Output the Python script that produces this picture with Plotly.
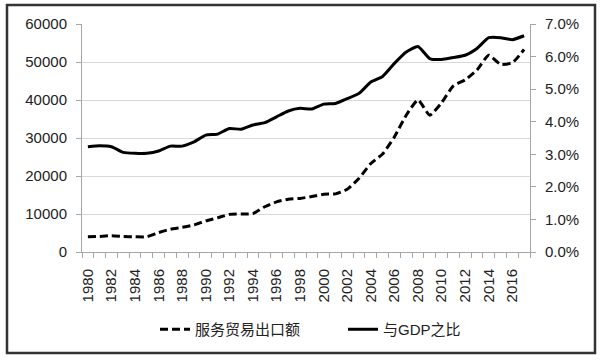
import plotly.graph_objects as go

years = list(range(1980, 2018))
exports = [4000, 4100, 4300, 4100, 4000, 4000, 5100, 6000, 6500, 7100,
           8200, 9000, 9900, 10000, 10100, 11900, 13200, 13900, 14100, 14600,
           15200, 15300, 16500, 19400, 23300, 25800, 30300, 36000, 40000, 36000,
           39300, 43700, 45300, 47900, 51800, 49400, 49800, 53300]
ratio = [3.23, 3.26, 3.23, 3.06, 3.03, 3.03, 3.10, 3.25, 3.25, 3.38,
         3.59, 3.62, 3.79, 3.77, 3.90, 3.97, 4.15, 4.33, 4.41, 4.39,
         4.54, 4.56, 4.71, 4.87, 5.22, 5.39, 5.79, 6.14, 6.31, 5.94,
         5.91, 5.97, 6.04, 6.25, 6.58, 6.58, 6.52, 6.64]
tick_years = list(range(1980, 2017, 2))
tick_labels = [str(y) for y in tick_years]

FONT = "Liberation Sans, Noto Sans CJK SC, sans-serif"
GRID = "#d9d9d9"
AXIS = "#a6a6a6"

fig = go.Figure()
fig.add_trace(go.Scatter(
    x=years, y=exports, name="服务贸易出口额", mode="lines",
    line=dict(color="#000000", width=3, dash="8px,4px", shape="spline", smoothing=0.5),
))
fig.add_trace(go.Scatter(
    x=years, y=ratio, name="与GDP之比", mode="lines", yaxis="y2",
    line=dict(color="#000000", width=3, shape="spline", smoothing=0.5),
))

fig.update_layout(
    width=600, height=361,
    margin=dict(l=82, r=70, t=24, b=109),
    paper_bgcolor="white", plot_bgcolor="white",
    font=dict(family=FONT, size=15, color="#222222"),
    showlegend=True,
    legend=dict(orientation="h", x=73 / 448, xanchor="left", y=-0.34, yanchor="middle",
                font=dict(size=15, color="#222222"), bgcolor="rgba(0,0,0,0)",
                entrywidth=143),
    xaxis=dict(
        range=[1979.5, 2017.5], tickmode="array", tickvals=tick_years, ticktext=tick_labels,
        tickangle=-90, ticks="", showgrid=False, zeroline=False,
        showline=True, linecolor=AXIS, linewidth=1,
        minor=dict(ticks="outside", tick0=1979.5, dtick=1, ticklen=5, tickcolor=AXIS, showgrid=False),
        ticklabelstandoff=10, tickfont=dict(size=15),
    ),
    yaxis=dict(
        range=[0, 60000], dtick=10000, showgrid=True, gridcolor=GRID, gridwidth=1,
        zeroline=False, showline=True, linecolor=AXIS, linewidth=1,
        ticks="outside", ticklen=5, tickcolor=AXIS, ticklabelstandoff=6,
        tickformat="d", tickfont=dict(size=15),
    ),
    yaxis2=dict(
        range=[0, 7], dtick=1, overlaying="y", side="right", showgrid=False,
        zeroline=False, showline=True, linecolor=AXIS, linewidth=1,
        ticks="outside", ticklen=5, tickcolor=AXIS, ticklabelstandoff=6,
        tickformat=".1f", ticksuffix="%", tickfont=dict(size=15),
    ),
    shapes=[dict(type="rect", xref="paper", yref="paper",
                 x0=(7 - 82) / 448, x1=(595 - 82) / 448,
                 y0=(252 - 353) / 228, y1=(252 - 5) / 228,
                 line=dict(color="#333333", width=2.5), fillcolor="rgba(0,0,0,0)", layer="below")],
)

fig.write_html("out.html", config={"displayModeBar": False},
               post_script="document.body.style.margin='0';document.body.style.overflow='hidden';")
